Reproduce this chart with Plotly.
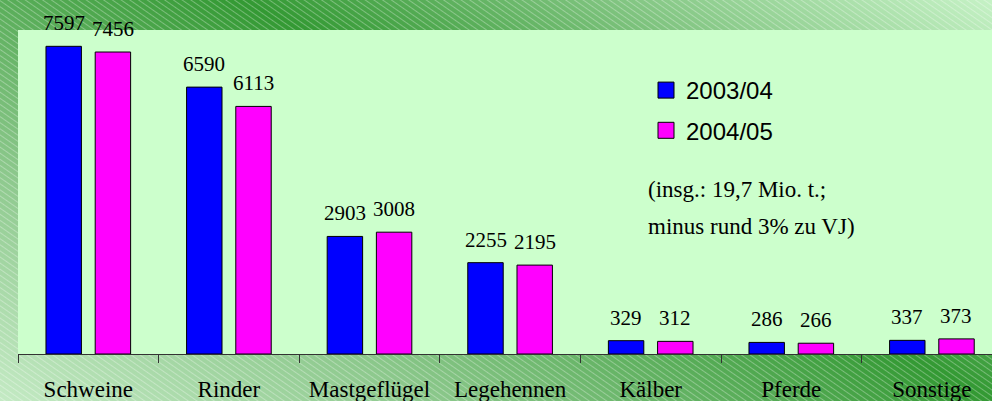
import base64
import plotly.graph_objects as go

categories = ["Schweine", "Rinder", "Mastgeflügel", "Legehennen", "Kälber", "Pferde", "Sonstige"]
series_names = ["2003/04", "2004/05"]
values_2003 = [7597, 6590, 2903, 2255, 329, 286, 337]
values_2004 = [7456, 6113, 3008, 2195, 312, 266, 373]
note_lines = ["(insg.: 19,7 Mio. t.;", "minus rund 3% zu VJ)"]

W, H = 992, 401
ML, MR, MT, MB = 18, 0, 30, 47
PW, PH = W - ML - MR, H - MT - MB
CAT_PX = 140.6

colors = ["#0000FF", "#FF00FF"]
serif = "Liberation Serif, Times New Roman, serif"
sans = "Liberation Sans, Arial, sans-serif"

svg = f"""<svg xmlns='http://www.w3.org/2000/svg' width='{W}' height='{H}' viewBox='0 0 {W} {H}' preserveAspectRatio='none'>
<defs>
<linearGradient id='g' gradientUnits='userSpaceOnUse' x1='28' y1='416' x2='415' y2='-309'>
<stop offset='0' stop-color='#c4eac4'/>
<stop offset='0.25' stop-color='#8cc88c'/>
<stop offset='0.57' stop-color='#339933'/>
<stop offset='0.78' stop-color='#80c480'/>
<stop offset='1' stop-color='#c6f2c6'/>
</linearGradient>
<pattern id='p' width='5' height='5' patternUnits='userSpaceOnUse' patternTransform='rotate(35)'>
<line x1='0' y1='0.5' x2='5' y2='0.5' stroke='white' stroke-opacity='0.3' stroke-width='1'/>
</pattern>
</defs>
<rect width='{W}' height='{H}' fill='url(#g)'/>
<rect width='{W}' height='{H}' fill='url(#p)'/>
<rect x='{ML}' y='{MT}' width='{PW}' height='{PH}' fill='#CCFFCC'/>
</svg>"""
bg_src = "data:image/svg+xml;base64," + base64.b64encode(svg.encode()).decode()

fig = go.Figure()
for name, vals, col in zip(series_names, [values_2003, values_2004], colors):
    fig.add_trace(go.Bar(
        x=categories, y=vals, name=name, showlegend=False,
        marker=dict(color=col, line=dict(color="black", width=1)),
        hoverinfo="x+y",
    ))
for i, (name, col) in enumerate(zip(series_names, colors)):
    fig.add_trace(go.Scatter(
        x=[None], y=[None], name=name, mode="markers", legendgroup=f"g{i}",
        marker=dict(symbol="square", size=16, color=col, line=dict(color="black", width=1)),
    ))

# value labels
annotations = []
for vals, shift in zip([values_2003, values_2004], [-24.5, 24.5]):
    for c, v in zip(categories, vals):
        annotations.append(dict(
            x=c, y=v, xref="x", yref="y", text=str(v), showarrow=False,
            xanchor="center", yanchor="bottom", xshift=shift, yshift=9,
            font=dict(family=serif, size=21, color="black"),
        ))
for line, ypx in zip(note_lines, [189, 226]):
    annotations.append(dict(
        x=(646 - ML) / PW, y=(H - MB - ypx) / PH, xref="paper", yref="paper",
        text=line, showarrow=False, xanchor="left", yanchor="middle",
        font=dict(family=serif, size=23, color="black"),
    ))

fig.update_layout(
    width=W, height=H,
    margin=dict(l=ML, r=MR, t=MT, b=MB, pad=0),
    paper_bgcolor="#5aa85a",
    plot_bgcolor="rgba(0,0,0,0)",
    barmode="group", bargap=0.3, bargroupgap=0.28,
    showlegend=True,
    legend=dict(
        x=(646 - ML) / PW, y=(H - MB - 68) / PH, xanchor="left", yanchor="top",
        bgcolor="rgba(0,0,0,0)", borderwidth=0, tracegroupgap=6,
        font=dict(family=sans, size=24, color="black"),
    ),
    xaxis=dict(
        range=[-0.5, -0.5 + PW / CAT_PX], showgrid=False, zeroline=False,
        showline=True, linecolor="#333333", linewidth=1,
        ticks="outside", tickson="boundaries", ticklen=8, tickcolor="#333333",
        ticklabelstandoff=14,
        tickfont=dict(family=serif, size=23, color="black"),
        fixedrange=True,
    ),
    yaxis=dict(
        range=[0, 8000], showgrid=False, zeroline=False, showline=False,
        showticklabels=False, ticks="", fixedrange=True,
    ),
    images=[dict(
        source=bg_src, xref="paper", yref="paper",
        x=-ML / PW, y=1 + MT / PH, sizex=W / PW, sizey=H / PH,
        xanchor="left", yanchor="top", sizing="stretch", layer="below",
    )],
    annotations=annotations,
)

fig.write_html(
    "out.html",
    config={"displayModeBar": False},
    post_script="document.body.style.margin='0';document.body.style.padding='0';",
)
